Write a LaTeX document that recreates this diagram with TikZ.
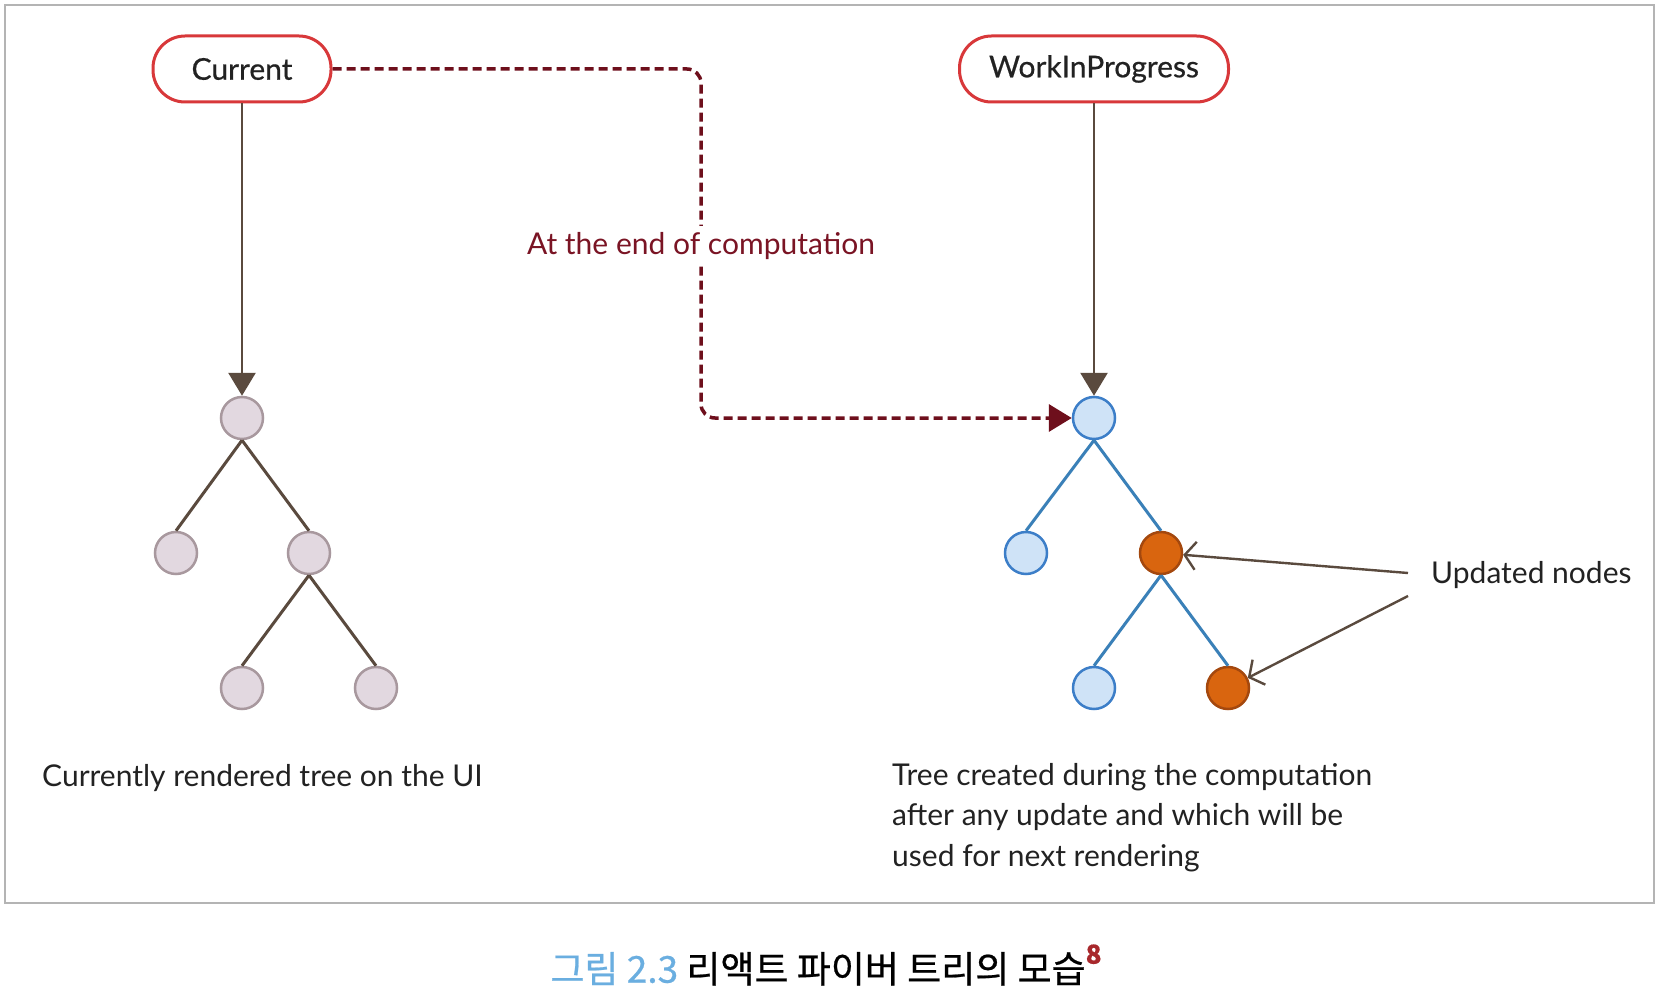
\documentclass[tikz,border=0pt]{standalone}
\usepackage{fontspec}
\setmainfont{Lato}
\newfontfamily\boxfont[FakeBold=0.6]{Lato}
\newfontfamily\krfont[FakeBold=0.6]{Noto Sans CJK KR}
\usetikzlibrary{arrows.meta}
\definecolor{boxred}{HTML}{D8383A}
\definecolor{linebrown}{HTML}{5A4A3E}
\definecolor{darkred}{HTML}{6E0F1C}
\definecolor{labelred}{HTML}{7A1424}
\definecolor{lavfill}{HTML}{E2D8E0}
\definecolor{lavdraw}{HTML}{A8989E}
\definecolor{bluefill}{HTML}{CFE3F7}
\definecolor{bluedraw}{HTML}{3C7EC8}
\definecolor{blueedge}{HTML}{3A80B8}
\definecolor{orangefill}{HTML}{D9650F}
\definecolor{orangedraw}{HTML}{A4480E}
\definecolor{framec}{HTML}{B4B4B4}
\definecolor{capblue}{HTML}{6AAEE0}
\definecolor{supred}{HTML}{A8282C}
\definecolor{textc}{HTML}{222222}
\begin{document}
\begin{tikzpicture}[x=1pt,y=-1pt,
  rootbox/.style={draw=boxred, line width=3pt, fill=white, rounded corners=32pt,
    minimum height=66pt, inner sep=0pt, font=\boxfont\fontsize{30}{34}\selectfont, text=textc},
  lavnode/.style={circle, draw=lavdraw, fill=lavfill, line width=2.5pt, minimum size=42pt, inner sep=0pt},
  bluenode/.style={circle, draw=bluedraw, fill=bluefill, line width=2.5pt, minimum size=42pt, inner sep=0pt},
  orangenode/.style={circle, draw=orangedraw, fill=orangefill, line width=2.5pt, minimum size=42pt, inner sep=0pt},
  lavedge/.style={draw=linebrown, line width=3pt},
  blueedge/.style={draw=blueedge, line width=3pt},
  downarrow/.style={draw=linebrown, line width=2.8pt, -{Triangle[length=23pt,width=27pt]}},
  dasharrow/.style={draw=darkred, line width=3.5pt, dash pattern=on 9pt off 5pt, rounded corners=14pt,
    -{Triangle[length=23pt,width=27pt]}},
  updarrow/.style={draw=linebrown, line width=2.4pt, -{Straight Barb[length=11pt,width=28pt,line width=2.4pt]}},
  bodytext/.style={font=\fontsize{30}{34}\selectfont, text=textc, inner sep=0pt}
]
\useasboundingbox (0,0) rectangle (1660,1000);
\fill[white] (0,0) rectangle (1660,1000);
\draw[framec, line width=1.5pt] (5,5) rectangle (1654,903);

% boxes
\node[rootbox, minimum width=178pt] (cur) at (242,69) {Current};
\node[rootbox, minimum width=269pt] (wip) at (1094,69) {WorkInProgress};

% left tree
\node[lavnode] (l0) at (242,418) {};
\node[lavnode] (l1) at (176,553) {};
\node[lavnode] (l2) at (309,553) {};
\node[lavnode] (l3) at (242,688) {};
\node[lavnode] (l4) at (376,688) {};
\draw[lavedge] (l0.south) -- (l1.north);
\draw[lavedge] (l0.south) -- (l2.north);
\draw[lavedge] (l2.south) -- (l3.north);
\draw[lavedge] (l2.south) -- (l4.north);

% right tree
\node[bluenode] (r0) at (1094,418) {};
\node[bluenode] (r1) at (1026,553) {};
\node[orangenode] (r2) at (1161,553) {};
\node[bluenode] (r3) at (1094,688) {};
\node[orangenode] (r4) at (1228,688) {};
\draw[blueedge] (r0.south) -- (r1.north);
\draw[blueedge] (r0.south) -- (r2.north);
\draw[blueedge] (r2.south) -- (r3.north);
\draw[blueedge] (r2.south) -- (r4.north);

% vertical arrows
\draw[downarrow] (cur.south) -- (l0.north);
\draw[downarrow] (wip.south) -- (r0.north);

% dashed arrow
\coordinate (d1) at (701,69);
\coordinate (d2) at (701,418);
\draw[dasharrow] (cur.east) -- (d1) -- (d2) -- (r0.west);
\node[font=\fontsize{30}{34}\selectfont, text=labelred, fill=white, inner xsep=2pt, inner ysep=6pt] (lab) at (701,246) {At the end of computation};

% updated nodes
\node[bodytext, anchor=west] (upd) at (1431,575) {Updated nodes};
\coordinate (u1) at (1408,573);
\coordinate (u2) at (1408,596);
\draw[updarrow] (u1) -- (r2);
\draw[updarrow] (u2) -- (r4);

% captions
\node[bodytext, anchor=west] (capl) at (42,778) {Currently rendered tree on the UI};
\node[bodytext, anchor=north west, align=left, font=\fontsize{30}{40.5}\selectfont] (capr) at (892,763)
  {Tree created during the computation\\after any update and which will be\\used for next rendering};

% figure caption
\node[font=\krfont\fontsize{37}{42}\selectfont, text=black, inner sep=0pt] (fig) at (826,965)
  {\textcolor{capblue}{그림 2.3} 리액트 파이버 트리의 모습\raisebox{19pt}{\textcolor{supred}{\fontsize{26}{28}\selectfont\bfseries 8}}};
\end{tikzpicture}
\end{document}
